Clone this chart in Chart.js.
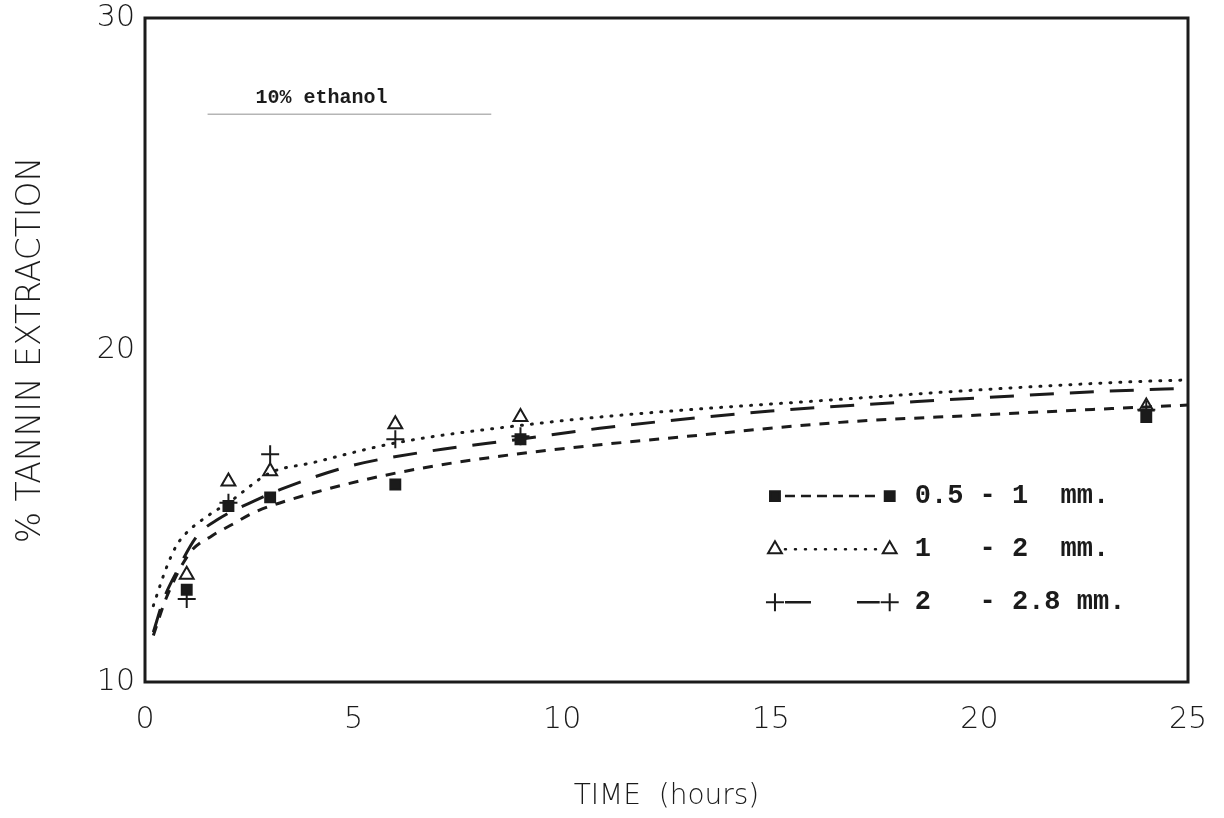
<!DOCTYPE html>
<html>
<head>
<meta charset="utf-8">
<script src="https://cdn.jsdelivr.net/npm/chart.js@4.4.0/dist/chart.umd.min.js"></script>
<style>
  html, body { margin: 0; padding: 0; background: #fff; }
  #wrap { width: 1224px; height: 818px; }
</style>
</head>
<body>
<div id="wrap"><canvas id="chart" width="1224" height="818"></canvas></div>
<script>
// measured points (time in hours, % tannin)
const timePoints = [1, 2, 3, 6, 9, 24]
const small = [12.78, 15.3, 15.56, 15.95, 17.31, 17.98]     // 0.5 - 1 mm
const medium = [13.23, 16.04, 16.35, 17.76, 17.98, 18.3]    // 1 - 2 mm
const large = [12.5, 15.4, 16.86, 17.31, 17.4, 18.2]        // 2 - 2.8 mm

// fitted curves
const smallFitT = [0.2, 0.5, 1.08, 1.6, 2.1, 2.6, 3.5, 5.3, 6.9, 8.5, 9.8, 13, 16.66, 20, 23.4, 25]
const smallFitY = [11.4, 12.5, 13.9, 14.4, 14.75, 15.1, 15.5, 16.1, 16.5, 16.8, 17.0, 17.4, 17.82, 18.04, 18.25, 18.34]
const mediumFitT = [0.2, 0.5, 0.75, 1, 1.5, 2, 3, 4, 6, 9.5, 12, 16.5, 20, 23.4, 25]
const mediumFitY = [12.3, 13.4, 14.1, 14.5, 15.0, 15.4, 16.3, 16.6, 17.2, 17.8, 18.1, 18.5, 18.8, 19.03, 19.1]
const largeFitT = [0.2, 0.45, 0.75, 1.25, 1.75, 2.7, 3.25, 4.9, 6.8, 8.9, 10.9, 15, 19.2, 23.1, 25]
const largeFitY = [11.5, 12.5, 13.3, 14.4, 14.9, 15.5, 15.8, 16.5, 16.95, 17.3, 17.64, 18.16, 18.5, 18.76, 18.85]

const xTicks = [0, 5, 10, 15, 20, 25]
const yTicks = [10, 20, 30]
const legendText = ["0.5 - 1  mm.", "1   - 2  mm.", "2   - 2.8 mm."]
const noteText = "10% ethanol"

const ink = "#1b1b1b"

function toXY(xs, ys) {
    let out = []
    for (let i = 0; i < xs.length; i++) {
        out.push({ x: xs[i], y: ys[i] })
    }
    return out
}

function curve(xs, ys, dash, cap) {
    return {
        type: 'line',
        data: toXY(xs, ys),
        borderColor: ink,
        borderWidth: 3,
        borderDash: dash,
        borderCapStyle: cap,
        pointRadius: 0,
        tension: 0.4,
        cubicInterpolationMode: 'monotone',
        fill: false
    }
}

function markers(ys, style, radius, filled) {
    return {
        type: 'scatter',
        data: toXY(timePoints, ys),
        pointStyle: style,
        pointRadius: radius,
        pointBorderColor: ink,
        pointBackgroundColor: filled ? ink : 'rgba(0,0,0,0)',
        pointBorderWidth: 2,
        showLine: false
    }
}

const datasets = [
    curve(smallFitT, smallFitY, [10, 9], 'butt'),
    curve(mediumFitT, mediumFitY, [1, 9], 'round'),
    curve(largeFitT, largeFitY, [24, 16], 'butt'),
    markers(small, 'rect', 7, true),
    markers(medium, 'triangle', 8, false),
    markers(large, 'cross', 9, false)
]

// frame, note and hand-drawn style legend
const decorations = {
    id: 'decorations',
    afterDraw(chart) {
        const ctx = chart.ctx
        const a = chart.chartArea
        const xs = chart.scales.x
        const ys = chart.scales.y
        ctx.save()
        ctx.strokeStyle = ink
        ctx.lineWidth = 3
        ctx.strokeRect(a.left, a.top, a.right - a.left, a.bottom - a.top)

        // note at top left
        ctx.fillStyle = ink
        ctx.font = "bold 20px 'Liberation Mono', monospace"
        ctx.textBaseline = 'middle'
        ctx.fillText(noteText, xs.getPixelForValue(2.65), ys.getPixelForValue(27.6))
        ctx.strokeStyle = '#b5b5b5'
        ctx.lineWidth = 1.5
        ctx.beginPath()
        ctx.moveTo(xs.getPixelForValue(1.5), ys.getPixelForValue(27.1))
        ctx.lineTo(xs.getPixelForValue(8.3), ys.getPixelForValue(27.1))
        ctx.stroke()

        // legend rows
        const rowY = [15.6, 14.0, 12.4]
        const x0 = xs.getPixelForValue(15.1)
        const x1 = xs.getPixelForValue(17.85)
        const styles = [
            { dash: [10, 6], cap: 'butt', m: 'rect', fill: ink },
            { dash: [1, 9], cap: 'round', m: 'triangle', fill: 'rgba(0,0,0,0)' },
            { dash: [26, 46], cap: 'butt', m: 'cross', fill: ink }
        ]
        for (let i = 0; i < rowY.length; i++) {
            const y = ys.getPixelForValue(rowY[i])
            const s = styles[i]
            ctx.strokeStyle = ink
            ctx.lineWidth = 2.5
            ctx.setLineDash(s.dash)
            ctx.lineCap = s.cap
            ctx.beginPath()
            ctx.moveTo(x0 + 10, y)
            ctx.lineTo(x1 - 10, y)
            ctx.stroke()
            ctx.setLineDash([])
            ctx.lineCap = 'butt'
            const ds = datasets[3 + i]
            for (const px of [x0, x1]) {
                ctx.fillStyle = s.fill
                ctx.lineWidth = 2
                Chart.helpers.drawPoint(ctx, {
                    pointStyle: s.m,
                    radius: ds.pointRadius,
                    borderWidth: 2,
                    rotation: 0
                }, px, y)
            }
            ctx.fillStyle = ink
            ctx.font = "bold 27px 'Liberation Mono', monospace"
            ctx.textBaseline = 'middle'
            ctx.fillText(legendText[i], xs.getPixelForValue(18.45), y)
        }
        ctx.restore()
    }
}

Chart.defaults.font.family = "'DejaVu Sans', sans-serif"
Chart.defaults.color = ink

new Chart(document.getElementById('chart'), {
    data: { datasets: datasets },
    options: {
        responsive: false,
        animation: false,
        events: [],
        layout: { padding: { left: 0, right: 36, top: 18, bottom: 0 } },
        plugins: { legend: { display: false }, tooltip: { enabled: false } },
        elements: { point: { backgroundColor: ink, borderColor: ink } },
        scales: {
            x: {
                type: 'linear',
                min: 0,
                max: 25,
                afterBuildTicks: (s) => { s.ticks = xTicks.map(v => ({ value: v })) },
                afterFit: (s) => { s.height = 136; s.paddingLeft = 0; s.paddingRight = 0 },
                grid: { display: false, drawTicks: false },
                border: { display: false },
                ticks: { padding: 20, font: { size: 30, weight: 200 }, color: ink },
                title: {
                    display: true,
                    text: 'TIME  (hours)',
                    font: { size: 28, weight: 200 },
                    color: ink,
                    padding: { top: 0, bottom: 4 }
                }
            },
            y: {
                type: 'linear',
                min: 10,
                max: 30,
                afterBuildTicks: (s) => { s.ticks = yTicks.map(v => ({ value: v })) },
                afterFit: (s) => { s.width = 145; s.paddingTop = 0; s.paddingBottom = 0 },
                grid: { display: false, drawTicks: false },
                border: { display: false },
                ticks: { padding: 10, font: { size: 30, weight: 200 }, color: ink },
                title: {
                    display: true,
                    text: '% TANNIN EXTRACTION',
                    font: { size: 33, weight: 200 },
                    color: ink,
                    padding: { top: 12, bottom: 0 }
                }
            }
        }
    },
    plugins: [decorations]
})
</script>
</body>
</html>
